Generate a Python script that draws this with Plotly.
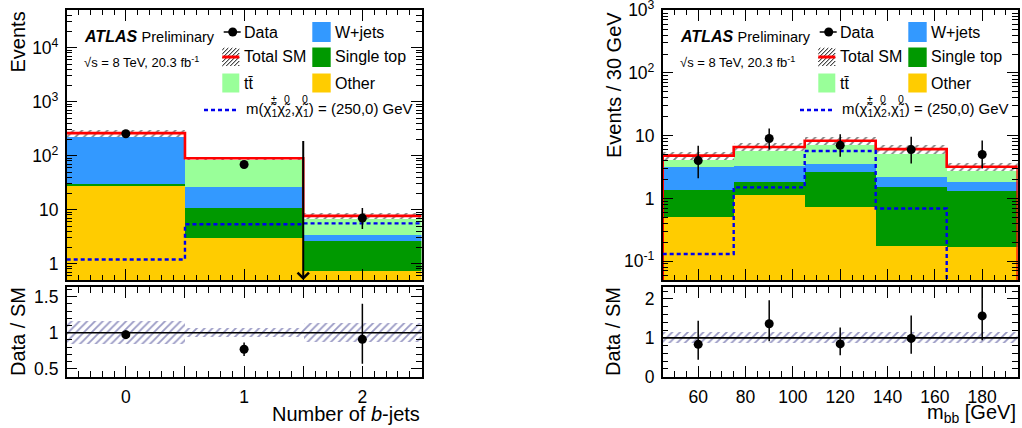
import numpy as np
import plotly.graph_objects as go

W, H = 1022, 428
FONT = "Liberation Sans, Arial, Helvetica, sans-serif"

# ---------------- data: number of b-jets ----------------
nb_bins = [0, 1, 2]
nb_edges = [-0.5, 0.5, 1.5, 2.5]
nb_other = [27.0, 3.0, 0.74]
nb_singletop = [3.0, 7.6, 1.9]
nb_wjets = [215.0, 16.0, 0.77]
nb_ttbar = [17.0, 63.0, 4.3]
nb_data = [255, 69, 7]
nb_data_up = [16.0, 8.3, 3.8]
nb_data_dn = [16.0, 8.3, 2.6]
nb_signal = [1.2, 5.4, 5.6]
nb_syst = [0.16, 0.066, 0.13]
nb_cut = 1.5
nb_arrow_top = 200.0
nb_arrow_bottom = 0.5
nb_ticktext = ["", "0", "", "1", "", "2", ""]

# ---------------- data: m_bb ----------------
mbb_bins = [60, 90, 120, 150, 180]
mbb_edges = [45, 75, 105, 135, 165, 195]
mbb_other = [0.51, 1.13, 0.74, 0.176, 0.166]
mbb_singletop = [0.85, 0.71, 1.92, 1.35, 1.14]
mbb_wjets = [1.83, 1.43, 0.82, 0.68, 0.53]
mbb_ttbar = [1.61, 3.33, 4.82, 3.89, 1.36]
mbb_data = [4, 9, 7, 6, 5]
mbb_data_up = [2.9, 4.0, 3.5, 3.6, 3.4]
mbb_data_dn = [1.9, 3.0, 2.4, 2.4, 2.0]
mbb_signal = [0.13, 1.5, 5.7, 0.69, 0.0]
mbb_syst = [0.15, 0.15, 0.15, 0.15, 0.15]

COL_OTHER = "#FFCC00"
COL_STOP = "#009900"
COL_WJETS = "#3399FF"
COL_TTBAR = "#99FF99"

# ---------------- geometry (pixels) ----------------
LEFT_X = (66.7, 421.5)
RIGHT_X = (662.7, 1017.7)
MAIN_Y = (10.0, 280.0)
RATIO_Y = (287.3, 376.7)


def px(x):
    return x / W


def py(y):
    return 1 - y / H


fig = go.Figure()


def add_panel(xa, ya, xr, yr, centers, edges, comps, data, dup, ddn, signal,
              syst, floor_edges):
    centers = np.asarray(centers, float)
    edges = np.asarray(edges, float)
    widths = np.diff(edges)
    comps = [np.asarray(c, float) for c in comps]
    total = np.sum(comps, axis=0)
    cols = [COL_OTHER, COL_STOP, COL_WJETS, COL_TTBAR]
    base = np.zeros_like(total)
    for i, (c, col) in enumerate(zip(comps, cols)):
        fig.add_trace(go.Bar(x=centers, y=c, base=(base.copy() if i > 0 else None),
                             width=widths, marker=dict(color=col, line=dict(width=0)),
                             xaxis=xa, yaxis=ya, showlegend=False, hoverinfo="skip"))
        base = base + c
    syst = np.asarray(syst, float)
    # hatched uncertainty band (main)
    fig.add_trace(go.Bar(x=centers, y=2 * syst * total, base=total * (1 - syst),
                         width=widths,
                         marker=dict(color="white", line=dict(width=0),
                                     pattern=dict(shape="/", fgcolor="black", bgcolor="white",
                                                  size=6, solidity=0.3)),
                         xaxis=xa, yaxis=ya, showlegend=False, hoverinfo="skip"))
    # total SM red line
    if floor_edges:
        lx = np.concatenate([[edges[0]], edges, [edges[-1]]])
        ly = np.concatenate([[1e-4], total, [total[-1]], [1e-4]])
    else:
        lx = edges
        ly = np.concatenate([total, [total[-1]]])
    fig.add_trace(go.Scatter(x=lx, y=ly, mode="lines", line=dict(color="#FF0000", width=2.6, shape="hv"),
                             xaxis=xa, yaxis=ya, showlegend=False, hoverinfo="skip"))
    # signal
    sig = np.maximum(np.asarray(signal, float), 1e-4)
    fig.add_trace(go.Scatter(x=edges, y=np.concatenate([sig, [sig[-1]]]), mode="lines",
                             line=dict(color="#0000EE", width=2.4, shape="hv", dash="4px,3px"),
                             xaxis=xa, yaxis=ya, showlegend=False, hoverinfo="skip"))
    # data
    fig.add_trace(go.Scatter(x=centers, y=data, mode="markers",
                             marker=dict(color="black", size=9),
                             error_y=dict(type="data", array=dup, arrayminus=ddn,
                                          color="black", thickness=1.5, width=0),
                             xaxis=xa, yaxis=ya, showlegend=False, hoverinfo="skip"))
    # ratio band
    fig.add_trace(go.Bar(x=centers, y=2 * syst, base=1 - syst, width=widths,
                         marker=dict(color="rgba(255,255,255,0)", line=dict(width=0),
                                     pattern=dict(shape="/", fgcolor="#34348a",
                                                  bgcolor="rgba(255,255,255,0)",
                                                  size=5.5, solidity=0.33)),
                         xaxis=xr, yaxis=yr, showlegend=False, hoverinfo="skip"))
    ratio = np.asarray(data, float) / total
    fig.add_trace(go.Scatter(x=centers, y=ratio, mode="markers",
                             marker=dict(color="black", size=9),
                             error_y=dict(type="data", array=np.asarray(dup) / total,
                                          arrayminus=np.asarray(ddn) / total,
                                          color="black", thickness=1.5, width=0),
                             xaxis=xr, yaxis=yr, showlegend=False, hoverinfo="skip"))
    fig.add_shape(type="line", xref=xr + " domain", yref=yr, x0=0, x1=1, y0=1, y1=1,
                  line=dict(color="black", width=1.6), layer="above")


add_panel("x", "y", "x2", "y2", nb_bins, nb_edges,
          [nb_other, nb_singletop, nb_wjets, nb_ttbar], nb_data, nb_data_up, nb_data_dn,
          nb_signal, nb_syst, False)
add_panel("x3", "y3", "x4", "y4", mbb_bins, mbb_edges,
          [mbb_other, mbb_singletop, mbb_wjets, mbb_ttbar], mbb_data, mbb_data_up, mbb_data_dn,
          mbb_signal, mbb_syst, True)

# cut arrow
fig.add_annotation(x=nb_cut, y=np.log10(nb_arrow_bottom), ax=nb_cut, ay=np.log10(nb_arrow_top),
                   xref="x", yref="y", axref="x", ayref="y", showarrow=True, arrowhead=4,
                   arrowsize=1.1, arrowwidth=2, arrowcolor="black", text="", standoff=0)

tickfont = dict(family=FONT, size=17.5, color="black")
common = dict(showline=True, linecolor="black", linewidth=1.5, mirror="allticks",
              ticks="inside", ticklen=11, tickwidth=1.2, tickcolor="black",
              showgrid=False, zeroline=False, tickfont=tickfont, ticklabeloverflow="allow",
              automargin=False)

ldom = [px(LEFT_X[0]), px(LEFT_X[1])]
rdom = [px(RIGHT_X[0]), px(RIGHT_X[1])]
mdom = [py(MAIN_Y[1]), py(MAIN_Y[0])]
rtdom = [py(RATIO_Y[1]), py(RATIO_Y[0])]

nb_tickvals = list(np.arange(-0.5, 2.51, 0.5))
minor_nb = dict(ticks="inside", ticklen=5.5, tickwidth=1, tickcolor="black", dtick=0.1, tick0=-0.5)
minor_mbb = dict(ticks="inside", ticklen=5.5, tickwidth=1, tickcolor="black", dtick=5, tick0=45)


def log_minor(lo, hi):
    vals = []
    for d in range(lo, hi):
        for k in range(2, 10):
            vals.append(k * 10.0 ** d)
    return dict(ticks="inside", ticklen=5.5, tickwidth=1, tickcolor="black",
                tickmode="array", tickvals=vals)


fig.update_layout(
    width=W, height=H, margin=dict(l=0, r=0, t=0, b=0, autoexpand=False),
    paper_bgcolor="white", plot_bgcolor="white", barmode="overlay", bargap=0,
    font=dict(family=FONT, color="black"),
    xaxis=dict(domain=ldom, anchor="y", range=[-0.5, 2.5], tickmode="array",
               tickvals=nb_tickvals, ticktext=nb_ticktext, showticklabels=False,
               minor=minor_nb, **common),
    yaxis=dict(domain=mdom, anchor="x", type="log", range=[np.log10(0.5), np.log10(5e4)],
               tickmode="array", tickvals=[1, 10, 100, 1000, 10000],
               ticktext=["1", "10", "10<sup>2</sup>", "10<sup>3</sup>", "10<sup>4</sup>"],
               ticklabelstandoff=3, minor=log_minor(-1, 5), **common),
    xaxis2=dict(domain=ldom, anchor="y2", range=[-0.5, 2.5], tickmode="array",
                tickvals=nb_tickvals, ticktext=nb_ticktext, ticklabelstandoff=4,
                minor=minor_nb, **common),
    yaxis2=dict(domain=rtdom, anchor="x2", range=[0.39, 1.63], tickmode="array",
                tickvals=[0.5, 1.0, 1.5], ticktext=["0.5", "1", "1.5"], ticklabelstandoff=3,
                minor=dict(ticks="inside", ticklen=5.5, tickwidth=1, tickcolor="black",
                           dtick=0.1, tick0=0), **common),
    xaxis3=dict(domain=rdom, anchor="y3", range=[45, 195], tickmode="array",
                tickvals=[60, 80, 100, 120, 140, 160, 180], showticklabels=False,
                minor=minor_mbb, **common),
    yaxis3=dict(domain=mdom, anchor="x3", type="log", range=[np.log10(0.05), 3.003],
                tickmode="array", tickvals=[0.1, 1, 10, 100, 1000],
                ticktext=["10<sup>-1</sup>", "1", "10", "10<sup>2</sup>", "10<sup>3</sup>"],
                ticklabelstandoff=3, minor=log_minor(-2, 3), **common),
    xaxis4=dict(domain=rdom, anchor="y4", range=[45, 195], tickmode="array",
                tickvals=[60, 80, 100, 120, 140, 160, 180],
                ticktext=["60", "80", "100", "120", "140", "160", "180"], ticklabelstandoff=4,
                minor=minor_mbb, **common),
    yaxis4=dict(domain=rtdom, anchor="x4", range=[0, 2.3], tickmode="array",
                tickvals=[0, 1, 2], ticktext=["0", "1", "2"], ticklabelstandoff=3,
                minor=dict(ticks="inside", ticklen=5.5, tickwidth=1, tickcolor="black",
                           dtick=0.2, tick0=0), **common),
)

TITLE = 20


def text(x, y, s, size, xanchor="left", yanchor="middle", angle=0):
    fig.add_annotation(x=px(x), y=py(y), xref="paper", yref="paper", text=s, showarrow=False,
                       xanchor=xanchor, yanchor=yanchor, textangle=angle,
                       font=dict(family=FONT, size=size, color="black"))


# axis titles
text(18, 10, "Events", TITLE, xanchor="center", yanchor="top", angle=-90)
text(18, 332, "Data / SM", TITLE, xanchor="center", yanchor="middle", angle=-90)
text(421.5, 414, "Number of <i>b</i>-jets", TITLE, xanchor="right")
text(614, 10, "Events / 30 GeV", TITLE, xanchor="center", yanchor="top", angle=-90)
text(613, 332, "Data / SM", TITLE, xanchor="center", yanchor="middle", angle=-90)
text(1018, 413, "m<sub>bb</sub> [GeV]", TITLE, xanchor="right")


def rect(x0, y0, x1, y1, color):
    fig.add_shape(type="rect", xref="paper", yref="paper", x0=px(x0), x1=px(x1),
                  y0=py(y1), y1=py(y0), fillcolor=color, line=dict(width=0), layer="above")


def hatch_box(x0, y0, x1, y1, step=4.0):
    path = ""
    c = x0 + y0 + step / 2
    while c < x1 + y1:
        xa = max(x0, c - y1)
        xb = min(x1, c - y0)
        if xb > xa:
            path += "M%.5f,%.5f L%.5f,%.5f " % (px(xa), py(c - xa), px(xb), py(c - xb))
        c += step
    fig.add_shape(type="path", xref="paper", yref="paper", path=path,
                  line=dict(color="black", width=1), layer="above")


def legend(ox):
    text(ox + 15, 36, "<b><i>ATLAS</i></b> <span style='font-size:14.5px'>Preliminary</span>", 16)
    text(ox + 15.5, 62, "\u221as = 8 TeV, 20.3 fb<sup>-1</sup>", 13)
    # Data
    fig.add_shape(type="line", xref="paper", yref="paper", x0=px(ox + 157), x1=px(ox + 174),
                  y0=py(32), y1=py(32), line=dict(color="black", width=1.5), layer="above")
    fig.add_shape(type="circle", xref="paper", yref="paper", x0=px(ox + 161.5), x1=px(ox + 170.5),
                  y0=py(36.5), y1=py(27.5), fillcolor="black", line=dict(width=0), layer="above")
    text(ox + 175, 32, "Data", 16)
    # Total SM
    hatch_box(ox + 155.6, 48, ox + 172.6, 66)
    fig.add_shape(type="line", xref="paper", yref="paper", x0=px(ox + 155.6), x1=px(ox + 172.6),
                  y0=py(57), y1=py(57), line=dict(color="#FF0000", width=3), layer="above")
    text(ox + 175, 57, "Total SM", 16)
    # ttbar
    rect(ox + 155.6, 73.5, ox + 172.6, 92.5, COL_TTBAR)
    text(ox + 175, 83, "tt\u0304", 16)
    # right column
    rect(ox + 245.6, 22, ox + 264, 42, COL_WJETS)
    text(ox + 266.6, 32, "W+jets", 16)
    rect(ox + 245.6, 47.5, ox + 264, 67, COL_STOP)
    text(ox + 266.6, 57, "Single top", 16)
    rect(ox + 245.6, 73.5, ox + 264, 92.5, COL_OTHER)
    text(ox + 266.6, 83, "Other", 16)
    # signal
    fig.add_shape(type="line", xref="paper", yref="paper", x0=px(ox + 137.3), x1=px(ox + 172),
                  y0=py(110), y1=py(110), line=dict(color="#0000EE", width=2.4, dash="4px,3px"),
                  layer="above")
    t0 = ox + 177
    text(t0, 110,
         "m(\u03c7\u0303<sub>1</sub>\u03c7\u0303<sub>2</sub>,"
         "\u03c7\u0303<sub>1</sub>) = (250,0) GeV", 15)
    # stacked superscripts above the subscripts
    for dx, s in [(25.0, "\u00b1"), (38.3, "0"), (55.8, "0")]:
        text(t0 + dx, 99, s, 10.5)


legend(LEFT_X[0])
legend(RIGHT_X[0])

fig.write_html("out.html")
